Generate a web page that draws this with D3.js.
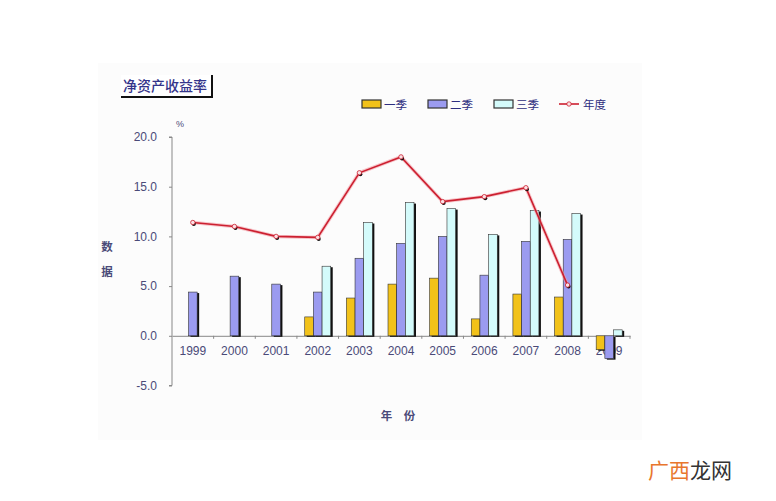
<!DOCTYPE html>
<html>
<head>
<meta charset="utf-8">
<title>净资产收益率</title>
<style>
  html, body { margin: 0; padding: 0; background: #fff; overflow: hidden; }
  svg text { font-family: "Liberation Sans", Arial, "Noto Sans CJK SC", sans-serif; }
  .cjk { font-family: "Noto Sans CJK SC", sans-serif; }
</style>
</head>
<body>
<div id="chart"></div>
<script src="https://d3js.org/d3.v7.min.js"></script>
<script>
// ---- data ----
const years = ["1999", "2000", "2001", "2002", "2003", "2004", "2005", "2006", "2007", "2008", "2009"];
const q1 = [null, null, null, 1.9, 3.8, 5.2, 5.8, 1.7, 4.2, 3.9, -1.4];
const q2 = [4.4, 6.0, 5.2, 4.4, 7.8, 9.3, 10.0, 6.1, 9.5, 9.7, -2.3];
const q3 = [null, null, null, 7.0, 11.4, 13.4, 12.8, 10.2, 12.6, 12.3, 0.6];
const annual = [11.4, 11.0, 10.0, 9.9, 16.4, 18.0, 13.5, 14.0, 14.9, 5.1];
const yTicks = [-5, 0, 5, 10, 15, 20];
const seriesNames = ["一季", "二季", "三季"];
const seriesColors = ["#f2c21a", "#9b9bf0", "#d4fbfb"];

const W = 776, H = 501;
const svg = d3.select("#chart").append("svg")
  .attr("width", W).attr("height", H);

// faint panel behind the chart
svg.append("rect")
  .attr("x", 98).attr("y", 63).attr("width", 544).attr("height", 377)
  .attr("fill", "#fcfcfc");

const x = d3.scaleBand().domain(years).range([172, 630]);
const y = d3.scaleLinear().domain([-5, 20]).range([385.5, 137]);
const inner = d3.scaleBand().domain([0, 1, 2]).range([-13, 13]);

const textCol = "#4a4a78";

// title box
const tg = svg.append("g");
tg.append("rect").attr("x", 121).attr("y", 75).attr("width", 91).attr("height", 21)
  .attr("fill", "#fff");
tg.append("path").attr("d", "M212,75 V97 H121")
  .attr("fill", "none").attr("stroke", "#111").attr("stroke-width", 2);
tg.append("text").attr("class", "cjk")
  .attr("x", 123).attr("y", 91)
  .attr("font-size", 14).attr("font-weight", 500).attr("fill", "#34348a")
  .text("净资产收益率");

// y axis
const yAxis = svg.append("g").attr("transform", "translate(172,0)")
  .call(d3.axisLeft(y).tickValues(yTicks).tickSize(3).tickFormat(d3.format(".1f")));
yAxis.select(".domain").attr("stroke", "#888").attr("d", `M-3,${y(20)}H0V${y(-5)}H-3`);
yAxis.selectAll(".tick line").attr("stroke", "#888");
yAxis.selectAll(".tick text")
  .attr("x", -15).attr("fill", textCol).attr("font-size", 12)
  .attr("font-family", "Liberation Sans, Arial, sans-serif")
  .text(d => d < 0 ? "-" + d3.format(".1f")(-d) : d3.format(".1f")(d));

svg.append("text").attr("x", 176).attr("y", 127)
  .attr("font-size", 9).attr("fill", textCol).text("%");

// y label stacked
svg.append("text").attr("class", "cjk").attr("x", 107).attr("y", 251)
  .attr("text-anchor", "middle").attr("font-size", 11.5).attr("font-weight", "bold")
  .attr("fill", textCol).text("数");
svg.append("text").attr("class", "cjk").attr("x", 107).attr("y", 276)
  .attr("text-anchor", "middle").attr("font-size", 11.5).attr("font-weight", "bold")
  .attr("fill", textCol).text("据");

// x axis line at zero
const xAxis = svg.append("g").attr("transform", `translate(0,${y(0)})`)
  .call(d3.axisBottom(x).tickSize(0).tickPadding(11));
xAxis.select(".domain").attr("stroke", "#888");
xAxis.selectAll(".tick text").attr("fill", textCol).attr("font-size", 12)
  .attr("font-family", "Liberation Sans, Arial, sans-serif");
// small tick marks between categories
svg.append("g").selectAll("line")
  .data(years)
  .join("line")
  .attr("x1", d => x(d) + x.bandwidth())
  .attr("x2", d => x(d) + x.bandwidth())
  .attr("y1", y(0)).attr("y2", y(0) + 3)
  .attr("stroke", "#888");

svg.append("text").attr("class", "cjk").attr("x", 398).attr("y", 420)
  .attr("text-anchor", "middle").attr("font-size", 11.5).attr("font-weight", "bold")
  .attr("fill", textCol).text("年　份");

// bars
const bars = [];
[q1, q2, q3].forEach((s, si) => {
  s.forEach((v, i) => { if (v !== null) bars.push({ year: years[i], v, si }); });
});
const bw = inner.bandwidth();
const bx = d => x(d.year) + x.bandwidth() / 2 + inner(d.si);
const barG = svg.append("g");
// dark right-hand shadow
barG.selectAll("rect.shadow").data(bars).join("rect")
  .attr("class", "shadow")
  .attr("x", d => bx(d) + 2)
  .attr("y", d => Math.min(y(d.v), y(0)) + 1)
  .attr("width", bw)
  .attr("height", d => Math.abs(y(d.v) - y(0)))
  .attr("fill", "#111");
barG.selectAll("rect.bar").data(bars).join("rect")
  .attr("class", "bar")
  .attr("x", d => bx(d))
  .attr("y", d => Math.min(y(d.v), y(0)))
  .attr("width", bw)
  .attr("height", d => Math.abs(y(d.v) - y(0)))
  .attr("fill", d => seriesColors[d.si])
  .attr("stroke", "#333").attr("stroke-width", 0.6);

// annual line
const pts = annual.map((v, i) => ({ year: years[i], v }));
const line = d3.line().x(d => x(d.year) + x.bandwidth() / 2).y(d => y(d.v));
svg.append("path").datum(pts)
  .attr("d", line).attr("fill", "none")
  .attr("stroke", "#f4a0a8").attr("stroke-width", 3.5).attr("opacity", 0.6);
svg.append("path").datum(pts)
  .attr("d", line).attr("fill", "none")
  .attr("stroke", "#cc2030").attr("stroke-width", 1.6);
svg.append("g").selectAll("circle.dot").data(pts).join("circle")
  .attr("class", "dot")
  .attr("cx", d => x(d.year) + x.bandwidth() / 2 + 1)
  .attr("cy", d => y(d.v) + 1.5)
  .attr("r", 2).attr("fill", "#111");
svg.append("g").selectAll("circle.mk").data(pts).join("circle")
  .attr("class", "mk")
  .attr("cx", d => x(d.year) + x.bandwidth() / 2)
  .attr("cy", d => y(d.v))
  .attr("r", 2.2).attr("fill", "#fbe0e4").attr("stroke", "#cc2030").attr("stroke-width", 0.8);

// legend
const lg = svg.append("g");
const legX = [362, 428, 494];
seriesNames.forEach((n, i) => {
  lg.append("rect").attr("x", legX[i]).attr("y", 100).attr("width", 19).attr("height", 8)
    .attr("fill", seriesColors[i]).attr("stroke", "#333").attr("stroke-width", 1.2);
  lg.append("text").attr("class", "cjk").attr("x", legX[i] + 22).attr("y", 108.5)
    .attr("font-size", 11.5).attr("fill", "#2e2e80").text(n);
});
lg.append("line").attr("x1", 559).attr("x2", 579).attr("y1", 104).attr("y2", 104)
  .attr("stroke", "#cc2030").attr("stroke-width", 1.6);
lg.append("circle").attr("cx", 569).attr("cy", 104).attr("r", 2.2)
  .attr("fill", "#fbe0e4").attr("stroke", "#cc2030").attr("stroke-width", 0.8);
lg.append("text").attr("class", "cjk").attr("x", 583).attr("y", 108.5)
  .attr("font-size", 11.5).attr("fill", "#2e2e80").text("年度");

// watermark
const wm = svg.append("text").attr("class", "cjk").attr("x", 648).attr("y", 478)
  .attr("font-size", 21);
wm.append("tspan").attr("fill", "#e8762d").text("广西");
wm.append("tspan").attr("fill", "#333").text("龙网");
</script>
</body>
</html>
